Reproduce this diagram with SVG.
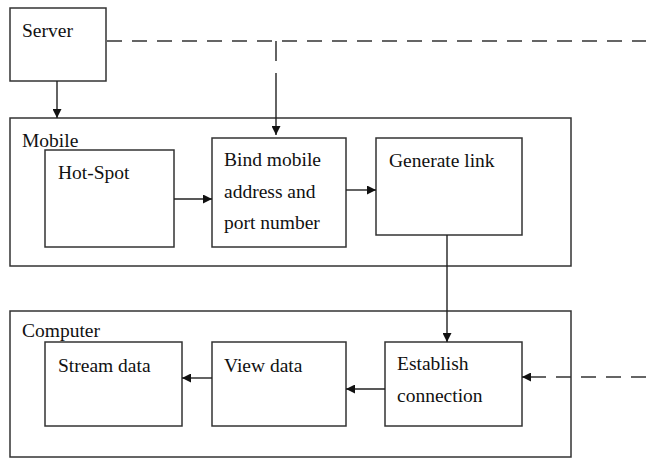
<svg xmlns="http://www.w3.org/2000/svg" width="646" height="459" viewBox="0 0 646 459" font-family="Liberation Serif, DejaVu Serif, serif">
<defs>
<style>
.box{fill:#fff;stroke:#333;stroke-width:1.5}
.lbl{font-family:'Liberation Serif','DejaVu Serif',serif;font-size:19.5px;fill:#111}
.ln{fill:none;stroke:#222;stroke-width:1.4}
.dash{fill:none;stroke:#333;stroke-width:1.5;stroke-dasharray:15 10}
</style>
<marker id="ah" viewBox="0 0 10 10" refX="10" refY="5" markerWidth="10" markerHeight="9" markerUnits="userSpaceOnUse" orient="auto">
<path d="M0,0 L10,5 L0,10 z" fill="#111"/>
</marker>
</defs>
<rect width="646" height="459" fill="#fff"/>
<g id="server">
<rect class="box" x="10" y="8" width="96" height="73"/>
<text class="lbl" x="22" y="37">Server</text>
</g>
<g id="mobile">
<rect class="box" x="10" y="118" width="561" height="148"/>
<text class="lbl" x="22" y="147">Mobile</text>
</g>
<g id="hotspot">
<rect class="box" x="45" y="150" width="129" height="97"/>
<text class="lbl" x="58" y="179">Hot-Spot</text>
</g>
<g id="bind">
<rect class="box" x="212" y="138" width="134" height="109"/>
<text class="lbl" x="224" y="166">Bind mobile</text>
<text class="lbl" x="224" y="198">address and</text>
<text class="lbl" x="224" y="229">port number</text>
</g>
<g id="generate">
<rect class="box" x="376" y="138" width="146" height="97"/>
<text class="lbl" x="389" y="167">Generate link</text>
</g>
<g id="computer">
<rect class="box" x="10" y="311" width="561" height="146"/>
<text class="lbl" x="22" y="337">Computer</text>
</g>
<g id="stream">
<rect class="box" x="45" y="342" width="137" height="84"/>
<text class="lbl" x="58" y="372">Stream data</text>
</g>
<g id="view">
<rect class="box" x="212" y="342" width="134" height="84"/>
<text class="lbl" x="224" y="372">View data</text>
</g>
<g id="establish">
<rect class="box" x="385" y="342" width="137" height="84"/>
<text class="lbl" x="397" y="370">Establish</text>
<text class="lbl" x="397" y="402">connection</text>
</g>
<g id="connectors">
<path class="dash" d="M107,41 H646"/>
<path class="ln" d="M276,41 V61"/>
<path class="ln" d="M276,73 V135" marker-end="url(#ah)"/>
<path class="ln" d="M57,81 V118" marker-end="url(#ah)"/>
<path class="ln" d="M174,199 H212" marker-end="url(#ah)"/>
<path class="ln" d="M346,190 H376" marker-end="url(#ah)"/>
<path class="ln" d="M447,235 V342" marker-end="url(#ah)" stroke="#555"/>
<path class="ln" d="M385,389 H346" marker-end="url(#ah)"/>
<path class="ln" d="M212,378 H182" marker-end="url(#ah)"/>
<path class="dash" d="M646,377 H534"/>
<path class="ln" d="M534,377 H522" marker-end="url(#ah)"/>
</g>
</svg>
